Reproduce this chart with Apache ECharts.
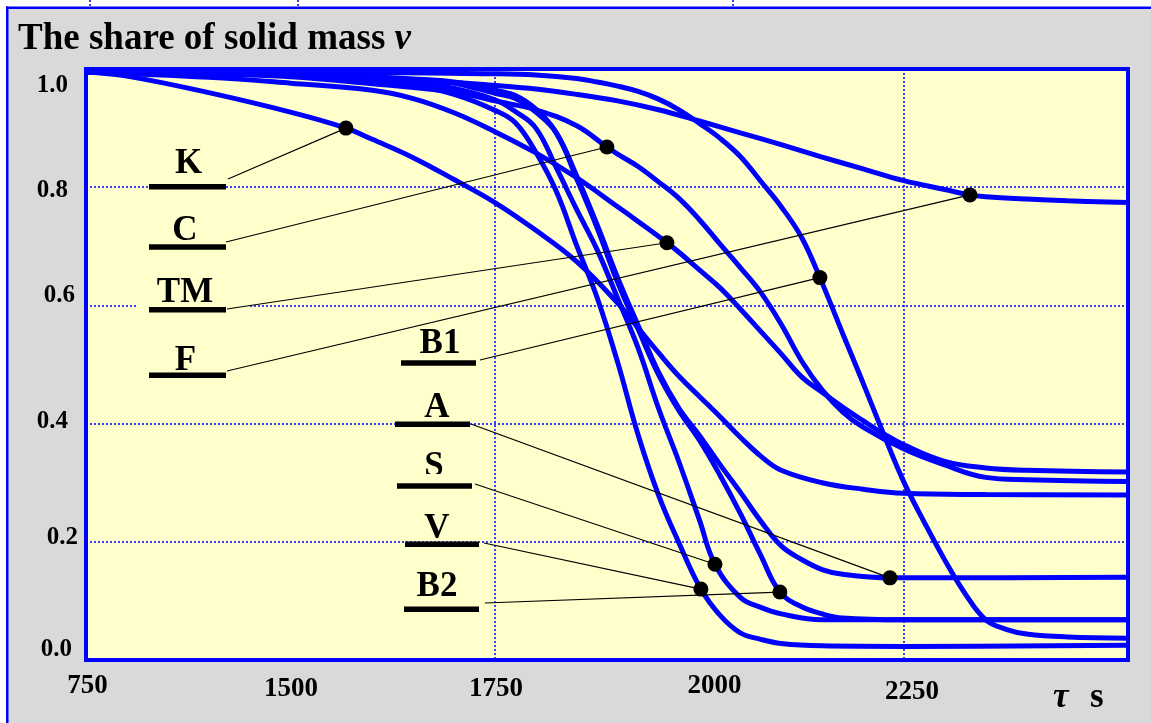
<!DOCTYPE html>
<html>
<head>
<meta charset="utf-8">
<script src="https://cdn.jsdelivr.net/npm/echarts@6/dist/echarts.min.js"></script>
<style>
html,body{margin:0;padding:0;background:#ffffff;}
#chart{width:1151px;height:723px;}
</style>
</head>
<body>
<div id="chart"></div>
<script>
// ---------- data (x in axis units: the first tick, shown as "750", sits at 1250) ----------
const xTickValues = [1250, 1500, 1750, 2000, 2250];
const xTickLabels = ['750', '1500', '1750', '2000', '2250'];
const yTickValues = [0, 0.2, 0.4, 0.6, 0.8, 1.0];
const yTickLabels = ['0.0', '0.2', '0.4', '0.6', '0.8', '1.0'];

const seriesNames = ['K', 'C', 'TM', 'F', 'B1', 'A', 'S', 'V', 'B2'];

const K = [[1250,0.995],[1300,0.988],[1400,0.960],[1500,0.927],[1567.8,0.900],[1600,0.881],[1650,0.850],[1700,0.813],[1750,0.774],[1800,0.727],[1850,0.674],[1900,0.604],[1925,0.562],[1950,0.520],[1975,0.480],[2000,0.446],[2025,0.412],[2050,0.377],[2075,0.345],[2100,0.321],[2150,0.300],[2200,0.289],[2250,0.282],[2350,0.280],[2524,0.279]];
const C = [[1250,0.995],[1400,0.991],[1500,0.987],[1600,0.975],[1700,0.961],[1750,0.946],[1800,0.931],[1850,0.904],[1886.9,0.868],[1900,0.856],[1925,0.835],[1950,0.809],[1975,0.781],[2000,0.745],[2025,0.704],[2050,0.664],[2075,0.622],[2100,0.568],[2125,0.506],[2150,0.457],[2175,0.420],[2200,0.394],[2250,0.357],[2300,0.330],[2350,0.309],[2400,0.305],[2524,0.302]];
const TM = [[1250,0.995],[1400,0.986],[1500,0.976],[1600,0.964],[1650,0.950],[1700,0.926],[1750,0.894],[1800,0.858],[1850,0.816],[1900,0.767],[1925,0.742],[1960.3,0.706],[1975,0.690],[2000,0.660],[2025,0.630],[2050,0.594],[2075,0.556],[2100,0.518],[2125,0.479],[2150,0.453],[2175,0.428],[2200,0.405],[2225,0.383],[2250,0.364],[2300,0.336],[2350,0.325],[2400,0.321],[2524,0.318]];
const F = [[1250,0.995],[1500,0.990],[1600,0.985],[1700,0.977],[1750,0.972],[1800,0.966],[1850,0.957],[1900,0.946],[1950,0.931],[2000,0.912],[2050,0.892],[2100,0.872],[2150,0.851],[2200,0.831],[2250,0.811],[2300,0.796],[2330.7,0.787],[2350,0.784],[2400,0.780],[2450,0.777],[2524,0.774]];
const B1 = [[1250,0.995],[1500,0.995],[1750,0.992],[1800,0.990],[1850,0.984],[1875,0.978],[1900,0.971],[1925,0.962],[1950,0.949],[1975,0.931],[2000,0.908],[2025,0.883],[2050,0.852],[2075,0.810],[2100,0.767],[2125,0.715],[2147.3,0.647],[2175,0.553],[2200,0.469],[2225,0.383],[2250,0.301],[2275,0.233],[2300,0.169],[2325,0.112],[2350,0.068],[2375,0.052],[2400,0.044],[2450,0.039],[2524,0.037]];
const A = [[1250,0.995],[1500,0.993],[1650,0.983],[1700,0.978],[1750,0.964],[1775,0.955],[1800,0.932],[1825,0.892],[1850,0.819],[1875,0.736],[1900,0.647],[1925,0.566],[1950,0.487],[1975,0.426],[2000,0.380],[2025,0.331],[2050,0.284],[2075,0.235],[2100,0.193],[2125,0.170],[2150,0.153],[2175,0.145],[2232.9,0.139],[2300,0.139],[2524,0.140]];
const S = [[1250,0.995],[1500,0.992],[1650,0.977],[1700,0.967],[1750,0.948],[1775,0.928],[1800,0.900],[1825,0.833],[1850,0.762],[1875,0.694],[1900,0.612],[1925,0.528],[1950,0.426],[1975,0.335],[2000,0.237],[2019,0.162],[2050,0.106],[2075,0.089],[2100,0.078],[2150,0.068],[2524,0.068]];
const V = [[1250,0.995],[1500,0.990],[1650,0.972],[1700,0.957],[1750,0.930],[1775,0.909],[1800,0.859],[1825,0.793],[1850,0.701],[1875,0.613],[1900,0.504],[1925,0.381],[1950,0.279],[1975,0.198],[2001.8,0.120],[2025,0.076],[2050,0.046],[2075,0.035],[2100,0.028],[2150,0.024],[2250,0.023],[2524,0.025]];
const B2 = [[1250,0.995],[1500,0.993],[1650,0.982],[1700,0.976],[1750,0.959],[1775,0.950],[1800,0.927],[1825,0.892],[1850,0.814],[1875,0.731],[1900,0.639],[1925,0.560],[1950,0.483],[1975,0.422],[2000,0.372],[2025,0.313],[2050,0.248],[2075,0.177],[2098.4,0.115],[2125,0.090],[2150,0.078],[2175,0.071],[2250,0.068],[2524,0.068]];

const curveData = { K, C, TM, F, B1, A, S, V, B2 };

// marked points on each curve (label -> point)
const markerPoints = {
  K: [1567.8, 0.900], C: [1886.9, 0.868], TM: [1960.3, 0.706], F: [2330.7, 0.787],
  B1: [2147.3, 0.647], A: [2232.9, 0.139], S: [2019, 0.162], V: [2001.8, 0.120], B2: [2098.4, 0.115]
};

// ---------- layout / style (pixels) ----------
const BLUE = '#0000ff', YELLOW = '#ffffcc', GREY = '#d9d9d9';
const FONT = '"Liberation Serif", "Times New Roman", serif';
const labelLayout = {
  K:  { tx: 188.5, ty: 164,   bx: [149, 226], by: 186.5, lead: [228, 179] },
  C:  { tx: 185,   ty: 231,   bx: [149, 226], by: 246.7, lead: [226, 242] },
  TM: { tx: 185,   ty: 293,   bx: [149, 226], by: 309.5, lead: [227, 309] },
  F:  { tx: 185.5, ty: 361,   bx: [149, 226], by: 375,   lead: [227, 371] },
  B1: { tx: 440,   ty: 344,   bx: [401, 476], by: 362.7, lead: [480, 360] },
  A:  { tx: 437,   ty: 407.5, bx: [395, 470], by: 424,   lead: [471, 424] },
  S:  { tx: 434,   ty: 467,   bx: [397, 472], by: 485.7, lead: [475, 484] },
  V:  { tx: 437,   ty: 528.5, bx: [405, 479], by: 544,   lead: [484, 543] },
  B2: { tx: 437,   ty: 586.5, bx: [404, 479], by: 609,   lead: [485, 603] }
};
// per-tick label nudges [paddingTop, paddingRight, paddingBottom, paddingLeft]
const xLabelPad = [[0,0,0,3],[3,0,0,1],[3,0,0,2],[0,0,0,30],[6,0,0,16]];
const yLabelPad = [[0,6,20,0],[0,0,9,0],[0,10,4,0],[0,3,20,0],[7,10,0,0],[34,10,0,0]];

const xRich = {}, yRich = {};
xLabelPad.forEach((p, i) => { xRich['x' + i] = { fontFamily: FONT, fontWeight: 'bold', fontSize: 27, color: '#000', padding: p }; });
yLabelPad.forEach((p, i) => { yRich['y' + i] = { fontFamily: FONT, fontWeight: 'bold', fontSize: 25, color: '#000', padding: p }; });

const chart = echarts.init(document.getElementById('chart'), null, { renderer: 'canvas' });

const dotted = { color: BLUE, width: 1.5, type: [2, 2] };

const series = seriesNames.map(n => ({
  name: n, type: 'line', data: curveData[n], xAxisIndex: 0, yAxisIndex: 0,
  showSymbol: false, smooth: 0.4, z: 3,
  lineStyle: { color: BLUE, width: 5 }, emphasis: { disabled: true }
}));
series.push({
  name: 'markers', type: 'scatter', xAxisIndex: 0, yAxisIndex: 0,
  data: seriesNames.map(n => markerPoints[n]),
  symbol: 'circle', symbolSize: 15, itemStyle: { color: '#000', opacity: 1 }, z: 20,
  emphasis: { disabled: true }
});

chart.setOption({
  animation: false,
  backgroundColor: GREY,
  title: {
    text: '{a|The share of solid mass }{b|ν}',
    left: 18, top: 19, padding: 0,
    textStyle: { rich: {
      a: { fontFamily: FONT, fontWeight: 'bold', fontSize: 37, color: '#000', lineHeight: 40 },
      b: { fontFamily: FONT, fontWeight: 'bold', fontStyle: 'italic', fontSize: 37, color: '#000', lineHeight: 40 }
    } }
  },
  grid: { left: 86, right: 23, top: 69, bottom: 63, show: true, backgroundColor: YELLOW, borderColor: BLUE, borderWidth: 4 },
  xAxis: [
    {
      type: 'value', min: 1250, max: 2524, interval: 250,
      axisLine: { show: false }, axisTick: { show: false }, splitLine: { show: false },
      axisLabel: {
        margin: 13,
        formatter: v => { const i = xTickValues.indexOf(Math.round(v)); return i < 0 ? '' : '{x' + i + '|' + xTickLabels[i] + '}'; },
        rich: xRich
      }
    },
    {
      // only the 1750 and 2250 grid lines are drawn (1250 hides under the frame)
      type: 'value', min: 1250, max: 2524, interval: 500, position: 'bottom',
      axisLine: { show: false }, axisTick: { show: false }, axisLabel: { show: false },
      splitLine: { show: true, lineStyle: dotted }
    }
  ],
  yAxis: {
    type: 'value', min: 0, max: 1, interval: 0.2,
    axisLine: { show: false }, axisTick: { show: false },
    splitLine: { show: true, lineStyle: dotted },
    axisLabel: {
      margin: 8,
      formatter: v => { const i = yTickValues.findIndex(t => Math.abs(t - v) < 1e-6); return i < 0 ? '' : '{y' + i + '|' + yTickLabels[i] + '}'; },
      rich: yRich
    }
  },
  series: series
});

// ---------- annotations: labels, bars, leader lines ----------
const g = [];
g.push({ type: 'rect', shape: { x: 0, y: 0, width: 1151, height: 7 }, style: { fill: '#ffffff' }, z: 50 });
g.push({ type: 'rect', shape: { x: 0, y: 0, width: 6, height: 723 }, style: { fill: '#ffffff' }, z: 50 });
g.push({ type: 'rect', shape: { x: 6, y: 6.5, width: 1145, height: 2.5 }, style: { fill: BLUE }, z: 51 });
g.push({ type: 'rect', shape: { x: 6, y: 6.5, width: 2.5, height: 717 }, style: { fill: BLUE }, z: 51 });
[90, 298, 733].forEach(x => g.push({ type: 'line', shape: { x1: x, y1: 0, x2: x, y2: 6 }, style: { stroke: BLUE, lineWidth: 1.5, lineDash: [2, 2] }, z: 51 }));
g.push({ type: 'rect', shape: { x: 137, y: 297, width: 111, height: 10 }, style: { fill: YELLOW }, z: 40 });

seriesNames.forEach(n => {
  const L = labelLayout[n];
  const p = chart.convertToPixel({ xAxisIndex: 0, yAxisIndex: 0 }, markerPoints[n]);
  g.push({ type: 'line', shape: { x1: L.lead[0], y1: L.lead[1], x2: p[0], y2: p[1] }, style: { stroke: '#000', lineWidth: 1.2 }, z: 45 });
  g.push({ type: 'text', x: L.tx, y: L.ty, style: { text: n, align: 'center', verticalAlign: 'middle', font: 'bold 35px ' + FONT, fill: '#000' }, z: 46 });
  g.push({ type: 'rect', shape: { x: L.bx[0], y: L.by - 2.5, width: L.bx[1] - L.bx[0], height: 5.5 }, style: { fill: '#000' }, z: 48 });
});
g.push({ type: 'rect', shape: { x: 418, y: 474, width: 34, height: 8 }, style: { fill: YELLOW }, z: 47 });
g.push({ type: 'text', x: 1053, y: 698, style: { text: 'τ', align: 'left', verticalAlign: 'middle', font: 'italic bold 35px ' + FONT, fill: '#000' }, z: 46 });
g.push({ type: 'text', x: 1090, y: 698, style: { text: 's', align: 'left', verticalAlign: 'middle', font: 'bold 35px ' + FONT, fill: '#000' }, z: 46 });

chart.setOption({ graphic: { elements: g } });
</script>
</body>
</html>
